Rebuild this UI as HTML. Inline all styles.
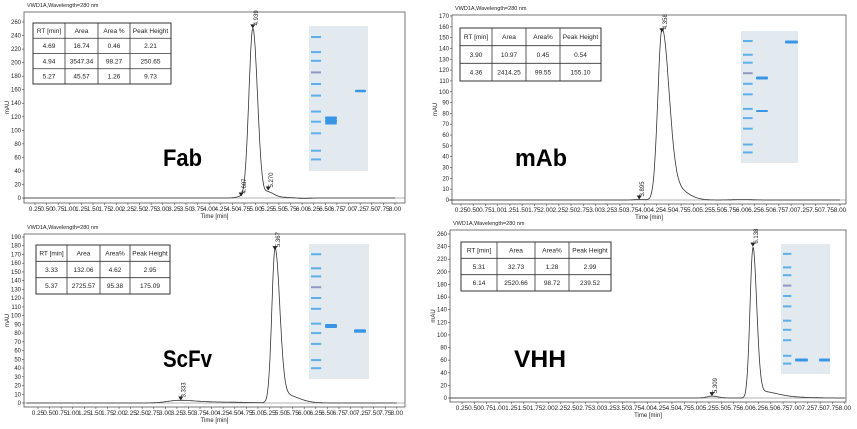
<!DOCTYPE html>
<html><head><meta charset="utf-8">
<style>
html,body{margin:0;padding:0;background:#fff;width:857px;height:429px;overflow:hidden}
svg{position:absolute;left:0;top:0}
text{font-family:"Liberation Sans",sans-serif;fill:#222}
</style></head><body>
<svg id="s" width="857" height="429" viewBox="0 0 857 429" xmlns="http://www.w3.org/2000/svg"></svg>
<script>
var S=document.getElementById('s'),out='';
function t(x,y,str,sz,extra){out+='<text x="'+x+'" y="'+y+'" font-size="'+sz+'" '+(extra||'')+'>'+str+'</text>';}
function panel(c){
  out+='<rect x="'+c.L+'" y="'+c.T+'" width="'+(c.R-c.L)+'" height="'+(c.B-c.T)+'" fill="none" stroke="#555" stroke-width="0.8"/>';
  t(c.L+3,c.T-5,'VWD1A,Wavelength=280 nm',5.5);
  var X=function(v){return c.x0+(v-0.25)*c.px;};
  var Y=function(v){return c.y0-v*c.py;};
  for(var v=0;v<=c.ymax;v+=c.ys){var y=Y(v);
    out+='<line x1="'+(c.L-2)+'" y1="'+y+'" x2="'+c.L+'" y2="'+y+'" stroke="#444" stroke-width="0.6"/>';
    t(c.L-3,y+2,v,6,'text-anchor="end"');}
  out+='<text x="0" y="0" font-size="6" transform="translate('+(c.L-15)+','+((c.T+c.B)/2)+') rotate(-90)" text-anchor="middle">mAU</text>';
  for(var i=1;i<=32;i++){var v=i*0.25,x=X(v);
    out+='<line x1="'+x+'" y1="'+c.B+'" x2="'+x+'" y2="'+(c.B+2)+'" stroke="#444" stroke-width="0.6"/>';
    t(x,c.B+8,v.toFixed(2),6,'text-anchor="middle" textLength="12.5" lengthAdjust="spacingAndGlyphs"');}
  t((c.L+c.R)/2,c.B+15,'Time [min]',6,'text-anchor="middle"');
  out+='<line x1="'+c.L+'" y1="'+c.y0+'" x2="'+c.R+'" y2="'+c.y0+'" stroke="#666" stroke-width="0.6"/>';
  var d='';
  for(var k=0;k<=800;k++){var tt=k*0.01,h=0;
    c.peaks.forEach(function(p){var s=tt<p[0]?p[2]:p[3];h+=p[1]*Math.exp(-Math.pow((tt-p[0])/s,2)/2);});
    var y=Y(h);d+=(k?'L':'M')+X(tt).toFixed(1)+' '+y.toFixed(1);}
  out+='<path d="'+d+'" fill="none" stroke="#333" stroke-width="0.8"/>';
  c.marks.forEach(function(m){var x=X(m[0]),y=Y(m[1]);
    out+='<path d="M'+(x-2.5)+' '+(y-4)+'L'+(x+2.5)+' '+(y-4)+'L'+x+' '+y+'Z" fill="#222"/>';
    out+='<text x="0" y="0" font-size="6" transform="translate('+(x+5)+','+(y-3)+') rotate(-90)">'+m[2]+'</text>';});
  var tb=c.tab,cols=tb.cols,rows=tb.rows,rh=(tb.y1-tb.y0)/rows.length;
  out+='<rect x="'+cols[0]+'" y="'+tb.y0+'" width="'+(cols[cols.length-1]-cols[0])+'" height="'+(tb.y1-tb.y0)+'" fill="#fff" stroke="#333" stroke-width="1"/>';
  for(var i=1;i<cols.length-1;i++)out+='<line x1="'+cols[i]+'" y1="'+tb.y0+'" x2="'+cols[i]+'" y2="'+tb.y1+'" stroke="#333" stroke-width="0.8"/>';
  rows.forEach(function(r,ri){var y=tb.y0+rh*ri;
    if(ri)out+='<line x1="'+cols[0]+'" y1="'+y+'" x2="'+cols[cols.length-1]+'" y2="'+y+'" stroke="#333" stroke-width="0.8"/>';
    r.forEach(function(s,ci){t((cols[ci]+cols[ci+1])/2,y+rh/2+2.3,s,6.5,'text-anchor="middle"');});});
  var g=c.gel;
  out+='<rect x="'+g.x+'" y="'+g.y+'" width="'+g.w+'" height="'+g.h+'" fill="#e3eaef"/>';
  [0.076,0.18,0.24,0.32,0.40,0.48,0.59,0.66,0.74,0.86,0.92].forEach(function(f,i){
    out+='<rect x="'+(g.x+2)+'" y="'+(g.y+f*g.h-1)+'" width="'+(g.w*0.17)+'" height="2" fill="'+(i==3?'#9297c4':'#5eaee8')+'"/>';});
  g.bands.forEach(function(b){out+='<rect x="'+b[0]+'" y="'+(b[1]-b[3]/2)+'" width="'+b[2]+'" height="'+b[3]+'" rx="1" fill="#3a95e6"/>';});
  out+='<text x="'+c.lab[0]+'" y="'+c.lab[1]+'" font-size="24" font-weight="bold" style="fill:#000" textLength="'+c.lab[3]+'" lengthAdjust="spacingAndGlyphs">'+c.lab[2]+'</text>';
}
panel({L:24,R:405,T:12,B:203,x0:35,px:46.45,y0:198,py:176/260,ymax:260,ys:20,
 peaks:[[4.94,250.6,0.085,0.1],[4.69,2,0.1,0.1],[5.27,8,0.06,0.12],[5.5,1.2,0.2,0.3],[6,-0.8,0.15,0.15]],
 marks:[[4.687,2.2,'4.687'],[4.939,250.6,'4.939'],[5.27,11,'5.270']],
 tab:{cols:[33,65,98,130,171],y0:23,y1:84,rows:[['RT [min]','Area','Area %','Peak Height'],['4.69','16.74','0.46','2.21'],['4.94','3547.34','98.27','250.65'],['5.27','45.57','1.26','9.73']]},
 gel:{x:309,y:26,w:59,h:145,bands:[[325,118,12,3],[325,121,12,3],[325,123.5,12,2],[355,91,11,2.5]]},
 lab:[163,166,'Fab',39]});
panel({L:452,R:846,T:15,B:204,x0:461,px:48.9,y0:200,py:184/170,ymax:170,ys:10,
 peaks:[[4.36,155,0.085,0.14],[4.6,12,0.15,0.25],[3.9,0.5,0.1,0.1],[6,0.4,0.2,0.2]],
 marks:[[3.895,0.5,'3.895'],[4.358,155,'4.358']],
 tab:{cols:[460,492,526,560,601],y0:28,y1:81,rows:[['RT [min]','Area','Area%','Peak Height'],['3.90','10.97','0.45','0.54'],['4.36','2414.25','99.55','155.10']]},
 gel:{x:741,y:31,w:57,h:132,bands:[[756,78,12,3],[756,111,12,2],[785,42,13,3]]},
 lab:[515,166,'mAb',52]});
panel({L:24,R:405,T:234,B:407,x0:38,px:46.3,y0:403,py:166/190,ymax:190,ys:10,
 peaks:[[5.37,172,0.07,0.1],[5.55,10,0.15,0.3],[3.3,2.9,0.25,0.35],[4.2,1,0.5,0.6]],
 marks:[[3.333,2.9,'3.333'],[5.367,175,'5.367']],
 tab:{cols:[36,67,100,130,170],y0:245,y1:294,rows:[['RT [min]','Area','Area%','Peak Height'],['3.33','132.06','4.62','2.95'],['5.37','2725.57','95.38','175.09']]},
 gel:{x:309,y:244,w:60,h:135,bands:[[325,326,12,4],[354,331,12,3.5]]},
 lab:[163,367,'ScFv',49]});
panel({L:450,R:846,T:230,B:402,x0:462,px:49.4,y0:398,py:164/260,ymax:260,ys:20,
 peaks:[[6.14,236,0.06,0.075],[6.3,10,0.1,0.3],[5.31,3,0.1,0.12],[6.8,1.5,0.3,0.4]],
 marks:[[5.309,3,'5.309'],[6.138,240,'6.138']],
 tab:{cols:[461,497,535,569,611],y0:242,y1:291,rows:[['RT [min]','Area','Area%','Peak Height'],['5.31','32.73','1.28','2.99'],['6.14','2520.66','98.72','239.52']]},
 gel:{x:781,y:244,w:49,h:130,bands:[[795,360,13,3],[819,360,11,3]]},
 lab:[514,367,'VHH',52]});
S.innerHTML=out;
</script>
</body></html>
